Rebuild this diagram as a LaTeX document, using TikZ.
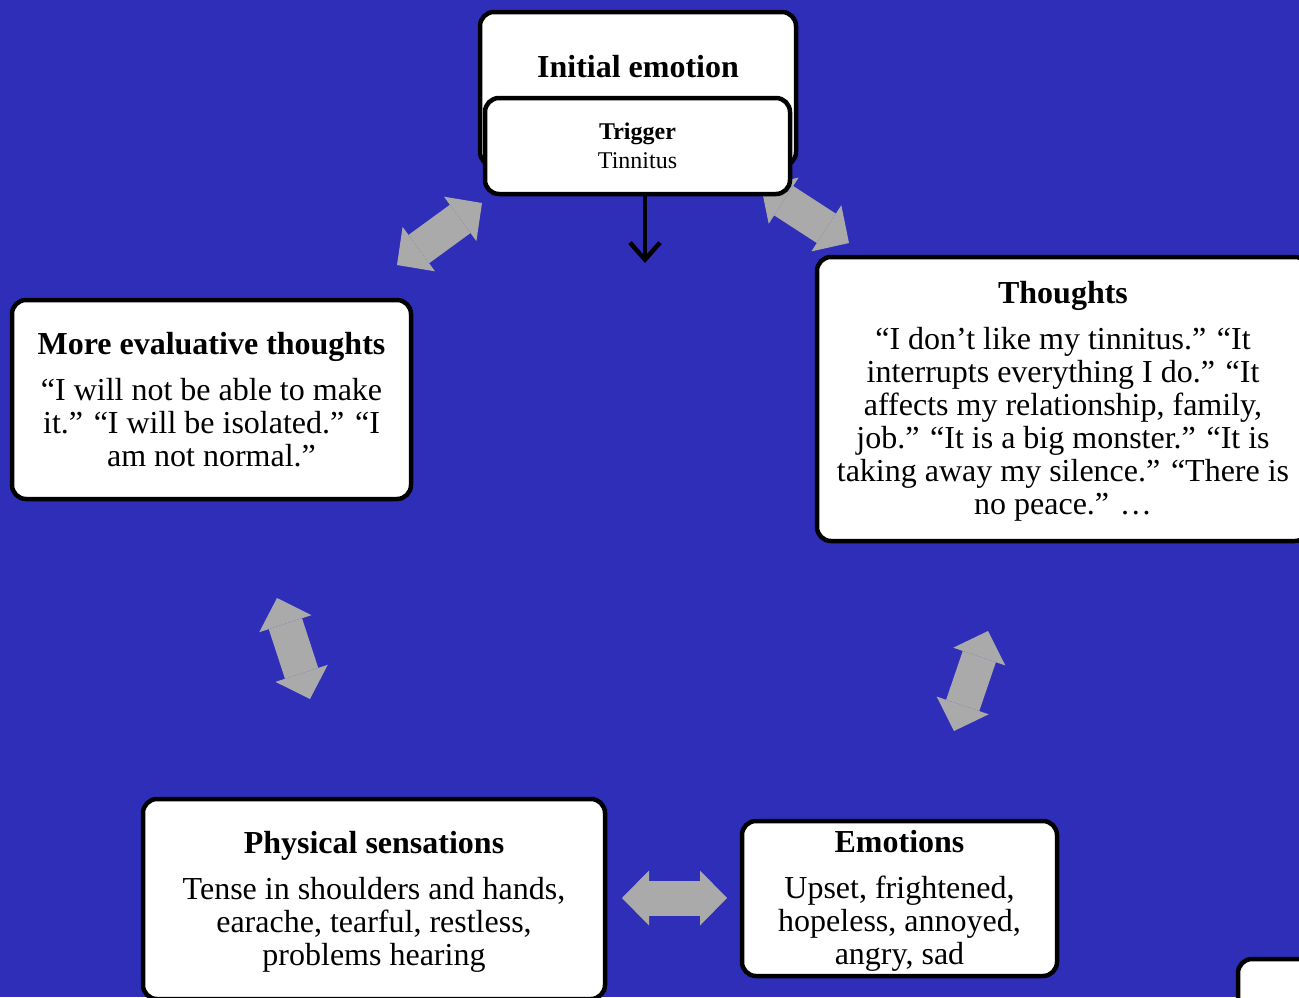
\documentclass[tikz,border=0pt]{standalone}
\usepackage{fontspec}
\setmainfont{Liberation Serif}
\usetikzlibrary{arrows.meta}

\definecolor{bgblue}{RGB}{47,46,185}
\definecolor{arrowgray}{RGB}{170,170,170}

\newcommand{\boxtitle}[1]{{\fontsize{32}{33}\selectfont\bfseries #1}}
\newcommand{\titlelift}{\rule{0pt}{27.5pt}}

\begin{document}
\begin{tikzpicture}[x=1pt, y=-1pt,
  box/.style={rectangle, rounded corners=14pt, draw=black, line width=4.5pt, fill=white,
    align=center, inner sep=0pt, font=\fontsize{32}{33}\selectfont},
  twoway/.style={line width=35pt, draw=arrowgray,
    {Triangle[length=27pt, width=55pt, line width=0pt]}-{Triangle[length=27pt, width=55pt, line width=0pt]}}]
  \useasboundingbox (0,0) rectangle (1299,997);
  \clip (0,0) rectangle (1299,997);
  \fill[bgblue] (0,0) rectangle (1299,997);

  % ends of the grey two-way arrows
  \coordinate (evalend) at (397,265);
  \coordinate (triggerend) at (482,203);
  \coordinate (initialend) at (761,186);
  \coordinate (thoughtsend) at (849,243);
  \coordinate (thoughtsbottom) at (988,631);
  \coordinate (emotionsend) at (954,731);
  \coordinate (emotionsleft) at (727,898);
  \coordinate (physicalend) at (622,898);
  \coordinate (physicaltop) at (310,699);
  \coordinate (evalbottom) at (277,598);

  \draw[twoway] (evalend) -- (triggerend);
  \draw[twoway] (initialend) -- (thoughtsend);
  \draw[twoway] (thoughtsbottom) -- (emotionsend);
  \draw[twoway] (emotionsleft) -- (physicalend);
  \draw[twoway] (physicaltop) -- (evalbottom);

  \node[box, minimum width=316pt, minimum height=154pt] (initial) at (638,89) {};
  \node[font=\fontsize{32}{33}\selectfont\bfseries] (initialtitle) at (638,67) {Initial emotion};
  \node[box, minimum width=305pt, minimum height=96pt, font=\fontsize{24}{29}\selectfont] (trigger) at (637.5,146) {\textbf{Trigger}\\Tinnitus};

  \node[box, minimum width=492pt, minimum height=284pt] (thoughts) at (1063,399)
    {\titlelift\boxtitle{Thoughts}\\[13pt]
     “I don’t like my tinnitus.” “It\\
     interrupts everything I do.” “It\\
     affects my relationship, family,\\
     job.” “It is a big monster.” “It is\\
     taking away my silence.” “There is\\
     no peace.” …};
  \node[box, minimum width=399pt, minimum height=199pt] (evaluative) at (211.5,399.5)
    {\boxtitle{More evaluative thoughts}\\[13pt]
     “I will not be able to make\\
     it.” “I will be isolated.” “I\\
     am not normal.”};
  \node[box, minimum width=462pt, minimum height=200pt] (physical) at (374,899)
    {\titlelift\boxtitle{Physical sensations}\\[13pt]
     Tense in shoulders and hands,\\
     earache, tearful, restless,\\
     problems hearing};
  \node[box, minimum width=315pt, minimum height=155pt] (emotions) at (899.5,898.5)
    {\titlelift\boxtitle{Emotions}\\[13pt]
     Upset, frightened,\\
     hopeless, annoyed,\\
     angry, sad};
  \node[box, minimum width=104pt, minimum height=92pt] (nextbox) at (1290,1005) {};

  \coordinate (triggertip) at (645,263);
  \draw[line width=4.5pt, -{Straight Barb[length=17pt, width=30pt]}] (trigger.south -| triggertip) -- (triggertip);
\end{tikzpicture}
\end{document}
